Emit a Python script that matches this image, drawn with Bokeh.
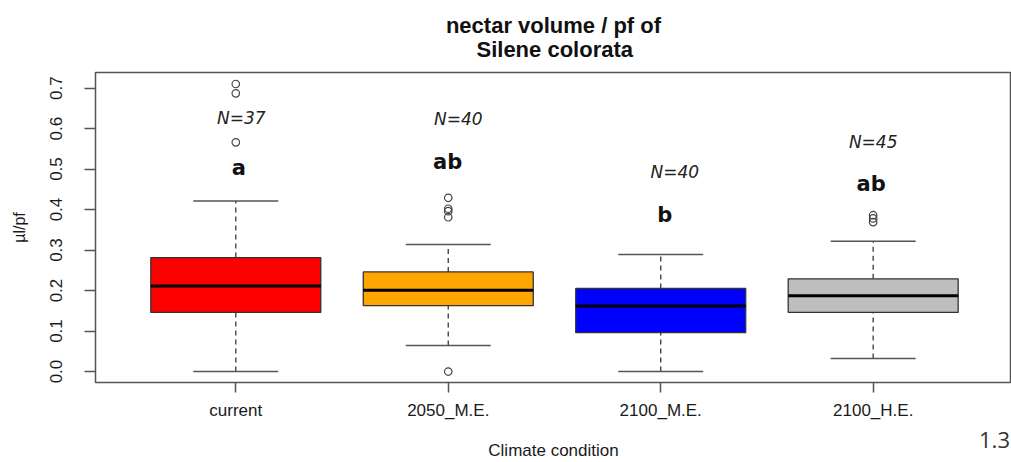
from bokeh.plotting import figure
from bokeh.models import Range1d, FixedTicker, ColumnDataSource, PrintfTickFormatter, LinearAxis
from bokeh.core.properties import value
from bokeh.embed import file_html
from bokeh.resources import INLINE

# ---- data ----
categories = ["current", "2050_M.E.", "2100_M.E.", "2100_H.E."]
positions = [1, 2, 3, 4]
whisker_lo = [0.0, 0.064, 0.0, 0.032]
q1 = [0.146, 0.1625, 0.096, 0.146]
median = [0.211, 0.201, 0.162, 0.187]
q3 = [0.2815, 0.246, 0.205, 0.229]
whisker_hi = [0.421, 0.3135, 0.289, 0.322]
box_colors = ["#FF0000", "#FFA500", "#0000FF", "#BEBEBE"]
outliers = [
    [0.566, 0.687, 0.710],
    [0.0, 0.381, 0.396, 0.402, 0.429],
    [],
    [0.369, 0.378, 0.386],
]
n_labels = ["N=37", "N=40", "N=40", "N=45"]
n_x = [1.026, 2.047, 3.066, 4.0]
n_y = [0.607, 0.603, 0.472, 0.546]
letters = ["a", "ab", "b", "ab"]
letter_x = [1.014, 1.997, 3.019, 3.99]
letter_y = [0.484, 0.498, 0.366, 0.443]
y_ticks = [0.0, 0.1, 0.2, 0.3, 0.4, 0.5, 0.6, 0.7]
title_lines = ["nectar volume / pf of", "Silene colorata"]
figure_number = "1.3"
figure_number_x = 4.571

box_width = 0.8
cap_half = 0.2

p = figure(width=1011, height=462, output_backend="svg", toolbar_location=None,
           x_range=Range1d(0.3397, 4.651), y_range=Range1d(-0.0271, 0.7384),
           min_border_left=95, min_border_right=0, min_border_top=72,
           min_border_bottom=79, background_fill_color="white")

# two title lines, second one padded so that both lines are centred
p.title.text = title_lines[0] + "\n" + "\u00a0" * 5 + title_lines[1]
p.title.align = "center"
p.title.text_font = "Liberation Sans"
p.title.text_font_size = "22px"
p.title.text_font_style = "bold"
p.title.text_color = "#111111"
p.title.text_line_height = 0.96
p.title.standoff = 21

p.xgrid.visible = False
p.ygrid.visible = False
p.outline_line_color = "#555555"
p.outline_line_width = 1.5

ax = p.xaxis[0]
ax.ticker = FixedTicker(ticks=positions)
ax.major_label_overrides = {pos: cat for pos, cat in zip(positions, categories)}
ax.axis_line_color = None
ax.minor_tick_line_color = None
ax.major_tick_line_color = "#555555"
ax.major_tick_line_width = 1.5
ax.major_tick_out = 10
ax.major_tick_in = 0
ax.major_label_standoff = 8
ax.major_label_text_font = "Liberation Sans"
ax.major_label_text_font_size = "17px"
ax.major_label_text_color = "#1a1a1a"

# second (tick-less) axis below: carries the figure number and the axis title
ax2 = LinearAxis(ticker=FixedTicker(ticks=[figure_number_x]),
                 major_label_overrides={figure_number_x: figure_number})
ax2.axis_line_color = None
ax2.minor_tick_line_color = None
ax2.major_tick_line_color = None
ax2.major_tick_out = 0
ax2.major_tick_in = 0
ax2.major_label_standoff = 9
ax2.major_label_text_font = "Open Sans"
ax2.major_label_text_font_size = "22px"
ax2.major_label_text_color = "#333333"
ax2.axis_label = "Climate condition"
ax2.axis_label_text_font = "Liberation Sans"
ax2.axis_label_text_font_size = "17px"
ax2.axis_label_text_font_style = "normal"
ax2.axis_label_text_color = "#1a1a1a"
ax2.axis_label_standoff = -10
p.add_layout(ax2, "below")

ay = p.yaxis[0]
ay.ticker = FixedTicker(ticks=y_ticks)
ay.formatter = PrintfTickFormatter(format="%.1f")
ay.major_label_orientation = "vertical"
ay.axis_line_color = None
ay.minor_tick_line_color = None
ay.major_tick_line_color = "#555555"
ay.major_tick_line_width = 1.5
ay.major_tick_out = 11
ay.major_tick_in = 0
ay.major_label_standoff = 22
ay.major_label_text_font = "Liberation Sans"
ay.major_label_text_font_size = "17px"
ay.major_label_text_color = "#1a1a1a"
ay.axis_label = "µl/pf"
ay.axis_label_text_font = "Liberation Sans"
ay.axis_label_text_font_size = "16px"
ay.axis_label_text_font_style = "normal"
ay.axis_label_text_color = "#1a1a1a"
ay.axis_label_standoff = 20

src = ColumnDataSource(dict(
    x=positions, lo=whisker_lo, q1=q1, med=median, q3=q3, hi=whisker_hi,
    color=box_colors,
    left=[x - box_width / 2 for x in positions],
    right=[x + box_width / 2 for x in positions],
    cl=[x - cap_half for x in positions],
    cr=[x + cap_half for x in positions],
))

# whiskers (dashed)
p.segment(x0="x", y0="q3", x1="x", y1="hi", source=src, line_color="#444444",
          line_width=1.4, line_dash="5 4")
p.segment(x0="x", y0="lo", x1="x", y1="q1", source=src, line_color="#444444",
          line_width=1.4, line_dash="5 4")
# caps
p.segment(x0="cl", y0="hi", x1="cr", y1="hi", source=src, line_color="#555555", line_width=1.5)
p.segment(x0="cl", y0="lo", x1="cr", y1="lo", source=src, line_color="#555555", line_width=1.5)
# boxes
p.quad(left="left", right="right", bottom="q1", top="q3", source=src,
       fill_color="color", line_color="#333333", line_width=1.3)
# medians
p.segment(x0="left", y0="med", x1="right", y1="med", source=src, line_color="black", line_width=3)

# outliers
ox, oy = [], []
for pos, vals in zip(positions, outliers):
    for v in vals:
        ox.append(pos)
        oy.append(v)
p.scatter(ox, oy, marker="circle", size=7.5, fill_color=None, line_color="#444444", line_width=1.2)

# annotations
p.text(x=n_x, y=n_y, text=n_labels, text_align="center", text_baseline="alphabetic",
       y_offset=-8,
       text_font=value("DejaVu Sans"), text_font_style="italic", text_font_size="17px",
       text_color="#222222")
p.text(x=letter_x, y=letter_y, text=letters, text_align="center", text_baseline="alphabetic",
       y_offset=-8,
       text_font=value("DejaVu Sans"), text_font_style="bold", text_font_size="21px",
       text_color="#111111")

open("out.html", "w").write(file_html(p, INLINE))
